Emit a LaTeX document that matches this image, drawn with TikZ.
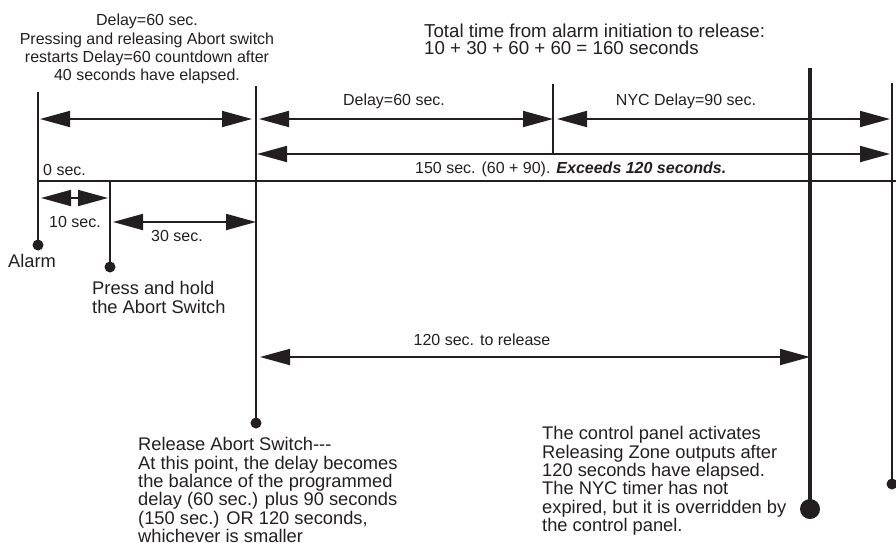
\documentclass[tikz,border=0pt]{standalone}
\usepackage{fontspec}
\setmainfont{Liberation Sans}
\usetikzlibrary{arrows.meta}
\definecolor{ink}{RGB}{35,31,32}
\begin{document}
\begin{tikzpicture}[x=1pt,y=-1pt,
  >={Triangle[length=30pt,width=16pt]},
  every node/.style={text=ink,inner sep=0pt},
  vline/.style={draw=ink,line width=1.8pt},
  shaft/.style={draw=ink,line width=1.8pt,<->},
  lbl/.style={font=\fontsize{16}{18.3}\selectfont},
  desc/.style={font=\fontsize{18.3}{18.3}\selectfont,align=left,anchor=north west},
  dot/.style={circle,fill=ink,minimum size=#1,inner sep=0pt}]
\useasboundingbox (0,0) rectangle (896,542);

% dots (event nodes)
\node[dot=11pt]   (alarm)   at (38,245)  {};
\node[dot=11pt]   (press)   at (110,267) {};
\node[dot=11pt]   (rel)     at (256,423) {};
\node[dot=20pt]   (panel)   at (810,509) {};
\node[dot=11pt]   (nycend)  at (892,484) {};

% tops of vertical lines
\coordinate (alarmTop) at (38,92);
\coordinate (pressTop) at (110,181);
\coordinate (relTop)   at (256,86);
\coordinate (delTop)   at (553,84);
\coordinate (delBot)   at (553,153);
\coordinate (panelTop) at (810,68);
\coordinate (nycTop)   at (892,83);
\coordinate (tlL) at (38,181);
\coordinate (tlR) at (896,181);

% vertical lines
\draw[draw=ink,line width=1.2pt] (alarmTop) -- (alarm.center);
\draw[vline] (pressTop) -- (press.center);
\draw[vline] (relTop) -- (rel.center);
\draw[vline] (delTop) -- (delBot);
\draw[draw=ink,line width=3.6pt] (panelTop) -- (panel.center);
\draw[vline] (nycTop) -- (nycend.center);
% timeline
\draw[vline] (tlL) -- (tlR);

% arrow end points
\coordinate (a1L) at (40,119);  \coordinate (a1R) at (252,119);
\coordinate (a2L) at (259,119); \coordinate (a2R) at (553,119);
\coordinate (a3L) at (557,119); \coordinate (a3R) at (890,119);
\coordinate (a4L) at (257,154); \coordinate (a4R) at (890,154);
\coordinate (a5L) at (41,198);  \coordinate (a5R) at (108,198);
\coordinate (a6L) at (113,222); \coordinate (a6R) at (256,222);
\coordinate (a7L) at (260,357); \coordinate (a7R) at (810,357);

\draw[shaft] (a1L) -- (a1R);
\draw[shaft] (a2L) -- (a2R);
\draw[shaft] (a3L) -- (a3R);
\draw[shaft] (a4L) -- (a4R);
\draw[shaft] (a5L) -- (a5R);
\draw[shaft] (a6L) -- (a6R);
\draw[shaft] (a7L) -- (a7R);

% labels
\node[lbl,anchor=base west] (l0)   at (43,175.7) {0 sec.};
\node[lbl,anchor=base] (ldel)   at (394,105.7) {Delay=60 sec.};
\node[lbl,anchor=base] (lnyc)   at (686,105.7) {NYC Delay=90 sec.};
\node[lbl,anchor=base west] (l150) at (415,173.7) {150 sec. (60 + 90). \textbf{\textit{Exceeds 120 seconds.}}};
\node[lbl,anchor=base] (l10)    at (75,227.7) {10 sec.};
\node[lbl,anchor=base] (l30)    at (177,241.7) {30 sec.};
\node[lbl,anchor=base] (l120)   at (482,345.7) {120 sec. to release};

\node[lbl,align=center,anchor=north] (topL) at (147,14) {Delay=60 sec.\\Pressing and releasing Abort switch\\restarts Delay=60 countdown after\\40 seconds have elapsed.};

\node[desc,font=\fontsize{18.7}{17.2}\selectfont] (topR) at (424,23.5) {Total time from alarm initiation to release:\\10 + 30 + 60 + 60 = 160 seconds};

\node[font=\fontsize{18.3}{18.3}\selectfont,anchor=base] (talarm) at (32,267.4) {Alarm};
\node[desc] (tpress) at (92,281.5) {Press and hold\\the Abort Switch};
\node[desc] (trel) at (138,437.5) {Release Abort Switch-{}-{}-\\At this point, the delay becomes\\the balance of the programmed\\delay (60 sec.) plus 90 seconds\\(150 sec.) OR 120 seconds,\\whichever is smaller};
\node[desc] (tpanel) at (542,426.5) {The control panel activates\\Releasing Zone outputs after\\120 seconds have elapsed.\\The NYC timer has not\\expired, but it is overridden by\\the control panel.};
\end{tikzpicture}
\end{document}
